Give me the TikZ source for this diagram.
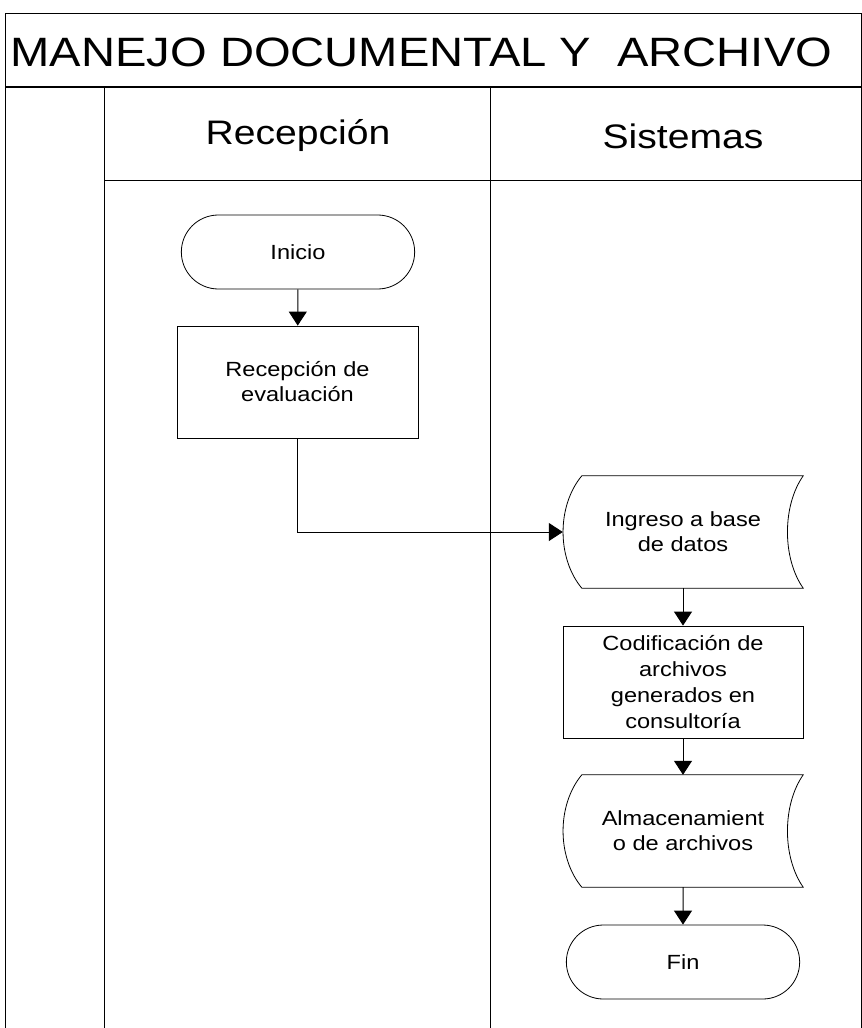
\documentclass[tikz,border=0pt]{standalone}
\usepackage{fontspec}
\setmainfont[FakeStretch=1.15]{Liberation Sans}
\usetikzlibrary{arrows.meta,shapes.misc}

\newcommand{\txtnodo}{\fontsize{20.5}{25}\selectfont}

\tikzset{
  terminal/.style={draw, line width=0.8pt, rounded rectangle, minimum width=240pt, minimum height=74pt, font=\txtnodo},
  proceso/.style={draw, line width=0.8pt, rectangle, minimum width=241pt, minimum height=112pt, align=center, font=\txtnodo},
  datos/.style={rectangle, minimum width=240pt, minimum height=112pt, align=center, font=\txtnodo},
  carril/.style={font=\fontsize{34}{40}\selectfont},
  flecha/.style={-{Triangle[width=18pt,length=14pt]}, line width=1pt},
  borde/.style={line width=1pt}
}

\begin{document}
\begin{tikzpicture}[x=1pt,y=1pt]
  \useasboundingbox (0,0) rectangle (862,-1028);
  % marco y carriles
  \draw[borde] (5,-1028) -- (5,-13) -- (861,-13) -- (861,-1028);
  \draw[line width=2.5pt] (5,-87) -- (861,-87);
  \draw[borde] (104,-87) -- (104,-1028);
  \draw[borde] (490,-87) -- (490,-1028);
  \draw[borde] (104,-180) -- (861,-180);
  \node[anchor=west, font=\fontsize{41}{48}\selectfont] (titulo) at (7,-52) {MANEJO DOCUMENTAL Y\ \ ARCHIVO};
  \node[carril] (recepcion) at (298,-136) {Recepción};
  \node[carril] (sistemas) at (683,-136) {Sistemas};

  % nodos
  \node[terminal] (inicio) at (298,-252) {Inicio};
  \node[proceso] (recep) at (297.5,-382) {Recepción de\\evaluación};
  \node[datos] (ingreso) at (683,-532) {Ingreso a base\\de datos};
  \node[proceso, minimum width=240pt, font=\fontsize{20.5}{26}\selectfont] (codif) at (683,-682) {Codificación de\\archivos\\generados en\\consultoría};
  \node[datos] (almacen) at (683,-831) {Almacenamient\\o de archivos};
  \node[terminal] (fin) at (683,-962) {Fin};

  % forma de datos almacenados
  \foreach \n in {ingreso,almacen}{
    \draw[line width=0.8pt] ([xshift=19pt]\n.north west) -- (\n.north east)
      .. controls ([xshift=-21pt,yshift=-30pt]\n.north east) and ([xshift=-21pt,yshift=30pt]\n.south east) .. (\n.south east)
      -- ([xshift=19pt]\n.south west)
      .. controls ([xshift=-6pt,yshift=30pt]\n.south west) and ([xshift=-6pt,yshift=-30pt]\n.north west) .. ([xshift=19pt]\n.north west) -- cycle;
  }

  % conectores
  \draw[flecha] (inicio) -- (recep);
  \draw[flecha] (recep.south) |- (ingreso.west);
  \draw[flecha] (ingreso) -- (codif);
  \draw[flecha] (codif) -- (almacen);
  \draw[flecha] (almacen) -- (fin);
\end{tikzpicture}
\end{document}
